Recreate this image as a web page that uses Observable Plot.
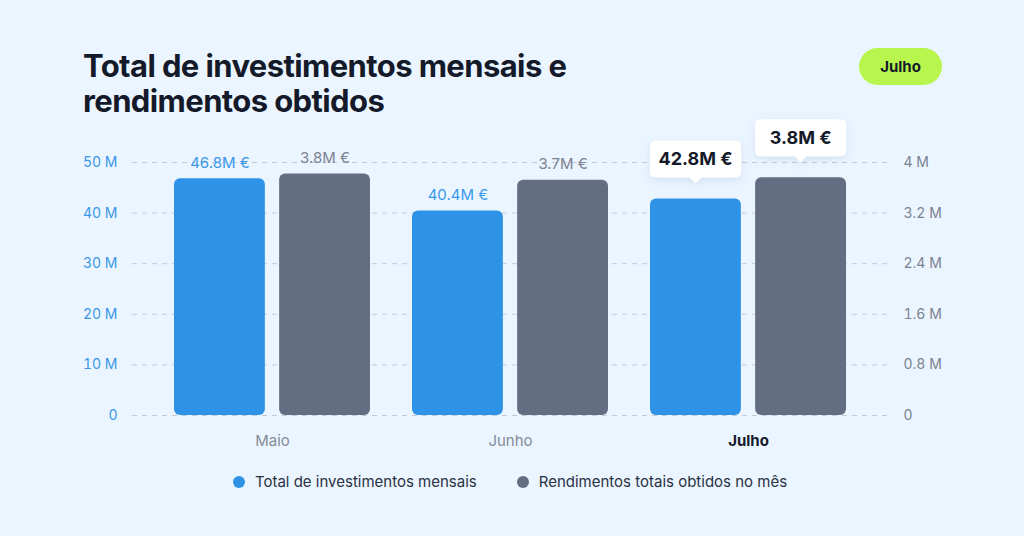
<!DOCTYPE html>
<html>
<head>
<meta charset="utf-8">
<script src="https://cdn.jsdelivr.net/npm/d3@7"></script>
<script src="https://cdn.jsdelivr.net/npm/@observablehq/plot@0.6"></script>
<style>
  html, body { margin: 0; padding: 0; }
  body { width: 1024px; height: 536px; background: #ebf5ff; position: relative; overflow: hidden; font-family: Inter, "Noto Sans", sans-serif; color: #141a2a; }
  #title { position: absolute; left: 83px; top: 48px; font-size: 31px; font-weight: 700; line-height: 35px; letter-spacing: -0.6px; color: #141a2a; }
  #badge { position: absolute; left: 859px; top: 48px; width: 83px; height: 37px; border-radius: 19px; background: #b9f64d; display: flex; align-items: center; justify-content: center; font-size: 15px; font-weight: 700; color: #141a2a; }
  #chart { position: absolute; left: 0; top: 130px; }
  #chart svg { overflow: visible; }
  #legend { position: absolute; left: 0; width: 1020px; top: 472px; display: flex; justify-content: center; gap: 40px; font-size: 15px; color: #2a3142; }
  #legend .item { display: flex; align-items: center; gap: 10px; }
  #legend .dot { width: 12px; height: 12px; border-radius: 50%; }
</style>
</head>
<body>
<div id="title">Total de investimentos mensais e<br>rendimentos obtidos</div>
<div id="badge">Julho</div>
<div id="chart"></div>
<div id="legend"></div>
<script>
// ---- data ----
const months = ["Maio", "Junho", "Julho"];
const investimentos = [46.8, 40.4, 42.8];        // M €
const rendimentos = [3.82, 3.72, 3.76];          // M €
const seriesNames = ["Total de investimentos mensais", "Rendimentos totais obtidos no mês"];
const leftTicks = [0, 10, 20, 30, 40, 50];       // M
const rightTicks = [0, 0.8, 1.6, 2.4, 3.2, 4];   // M
const highlightMonth = "Julho";

// ---- styling ----
const blue = "#2e93e6", grey = "#646e82";
const blueText = "#3a98e8", greyText = "#7b8291";
const ratio = leftTicks[leftTicks.length - 1] / rightTicks[rightTicks.length - 1]; // right axis -> left units

const inv = months.map((m, i) => ({month: m, value: investimentos[i]}));
const ren = months.map((m, i) => ({month: m, value: rendimentos[i], scaled: rendimentos[i] * ratio}));

const width = 1024, height = 325;
const marginLeft = 132, marginRight = 136, marginTop = 32, marginBottom = 40;
const pIn = 0.178, pOut = 0.172, gap = 14;
const step = (width - marginLeft - marginRight) / (months.length - pIn + 2 * pOut);
const bw = step * (1 - pIn);
const barW = (bw - gap) / 2;
const inset = bw - barW;
const off = (barW + gap) / 2;

const fmt = v => `${v.toFixed(1)}M €`;
const font = "Inter, 'Noto Sans', sans-serif";

const plot = Plot.plot({
  width, height, marginLeft, marginRight, marginTop, marginBottom,
  style: {background: "transparent", fontFamily: font, fontSize: "14px", overflow: "visible"},
  x: {type: "band", domain: months, paddingInner: pIn, paddingOuter: pOut, axis: null},
  y: {domain: [0, leftTicks[leftTicks.length - 1]], axis: null},
  marks: [
    Plot.ruleY(leftTicks, {stroke: "#c3cad5", strokeDasharray: "5,5", strokeWidth: 1}),
    Plot.axisY({anchor: "left", ticks: leftTicks, tickSize: 0, tickPadding: 15, label: null,
      tickFormat: d => d === 0 ? "0" : `${d} M`, fill: blueText, fontSize: 14}),
    Plot.axisY({anchor: "right", ticks: rightTicks.map(d => d * ratio), tickSize: 0, tickPadding: 15, label: null,
      tickFormat: d => d === 0 ? "0" : `${+(d / ratio).toFixed(1)} M`, fill: greyText, fontSize: 14}),
    Plot.barY(inv, {x: "month", y: "value", fill: blue, insetRight: inset, rx: 6}),
    Plot.barY(ren, {x: "month", y: "scaled", fill: grey, insetLeft: inset, rx: 6}),
    // value labels (non-highlighted months)
    Plot.text(inv.filter(d => d.month !== highlightMonth), {x: "month", y: "value", text: d => fmt(d.value),
      dx: -off, dy: -11, lineAnchor: "bottom", fill: blueText, fontSize: 15}),
    Plot.text(ren.filter(d => d.month !== highlightMonth), {x: "month", y: "scaled", text: d => fmt(d.value),
      dx: off, dy: -11, lineAnchor: "bottom", fill: greyText, fontSize: 15}),
    // month labels
    Plot.text(months.filter(m => m !== highlightMonth), {x: d => d, y: 0, text: d => d, dy: 26, fill: "#858b98", fontSize: 15}),
    Plot.text([highlightMonth], {x: d => d, y: 0, text: d => d, dy: 26, fill: "#141a2a", fontSize: 15, fontWeight: 700})
  ]
});
document.getElementById("chart").appendChild(plot);

// highlighted callouts for the selected month, positioned with the plot's scales
const xs = plot.scale("x"), ys = plot.scale("y");
const svg = d3.select(plot);
const defs = svg.append("defs");
const f = defs.append("filter").attr("id", "sh").attr("x", "-30%").attr("y", "-30%").attr("width", "160%").attr("height", "180%");
f.append("feDropShadow").attr("dx", 0).attr("dy", 3).attr("stdDeviation", 5).attr("flood-color", "#6a86b0").attr("flood-opacity", 0.18);
const hi = months.indexOf(highlightMonth);
const callouts = [
  {cx: xs.apply(highlightMonth) + bw / 2 - off, top: ys.apply(investimentos[hi]), label: fmt(investimentos[hi])},
  {cx: xs.apply(highlightMonth) + bw / 2 + off, top: ys.apply(rendimentos[hi] * ratio), label: fmt(rendimentos[hi])}
];
const g = svg.append("g");
for (const c of callouts) {
  const w = barW, h = 37, r = 6, pb = c.top - 21, pt = pb - h, x0 = c.cx - w / 2, x1 = c.cx + w / 2, p = 6;
  const path = `M${x0 + r},${pt} H${x1 - r} Q${x1},${pt} ${x1},${pt + r} V${pb - r} Q${x1},${pb} ${x1 - r},${pb}
    H${c.cx + p} L${c.cx},${pb + p} L${c.cx - p},${pb} H${x0 + r} Q${x0},${pb} ${x0},${pb - r} V${pt + r} Q${x0},${pt} ${x0 + r},${pt} Z`;
  g.append("path").attr("d", path).attr("fill", "#ffffff").attr("filter", "url(#sh)");
  g.append("text").attr("x", c.cx).attr("y", pt + h / 2).attr("text-anchor", "middle").attr("dominant-baseline", "central")
    .attr("font-family", font).attr("font-size", 18).attr("font-weight", 700).attr("fill", "#141a2a").text(c.label);
}

// legend
const lg = document.getElementById("legend");
[[seriesNames[0], blue], [seriesNames[1], grey]].forEach(([n, c]) => {
  const it = document.createElement("div"); it.className = "item";
  it.innerHTML = `<span class="dot" style="background:${c}"></span><span>${n}</span>`;
  lg.appendChild(it);
});
</script>
</body>
</html>
